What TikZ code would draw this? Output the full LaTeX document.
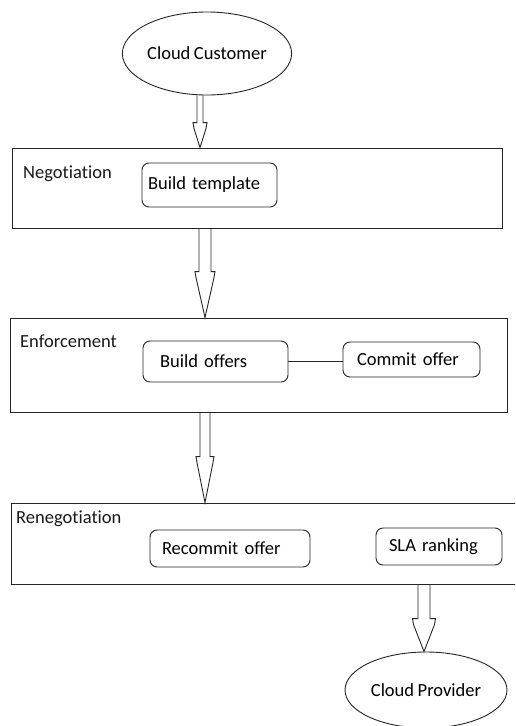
\documentclass[tikz,border=0pt]{standalone}
\usepackage{fontspec}
\setmainfont{Carlito}[RawFeature={-liga}, WordSpace=0.85]
\usetikzlibrary{shapes.geometric,calc}
\begin{document}
\begin{tikzpicture}[x=1pt,y=-1pt,
  font=\fontsize{18.5}{22}\selectfont,
  line/.style={draw=black!85, line width=0.9pt},
  stage/.style={line, rectangle, inner sep=0pt},
  rbox/.style={line, rectangle, rounded corners=7pt, inner ysep=0pt, align=left},
  cloud/.style={line, ellipse, inner sep=0pt},
  lbl/.style={anchor=west, inner sep=0pt, text=black!90},
  hollow/.style n args={3}{line, to path={let \p1=(\tikztostart),\p2=(\tikztotarget) in
    (\x1-#1,\y1) -- (\x1-#1,\y2+#3) -- (\x1-#2,\y2+#3) -- (\x1-#2+1pt,\y2+#3-6pt) -- (\x1,\y2)
    -- (\x1+#2-1pt,\y2+#3-6pt) -- (\x1+#2,\y2+#3) -- (\x1+#1,\y2+#3) -- (\x1+#1,\y1)}}]
\clip (0,0) rectangle (515,726);
\fill[white] (0,0) rectangle (515,726);

% ellipses
\node[cloud, minimum width=152pt, minimum height=83pt] (cc) at (207,53.5) {Cloud Customer};
\node[cloud, minimum width=162pt, minimum height=76pt] (cp) at (426,690) {Cloud Provider};

% stage boxes
\node[stage, minimum width=490pt, minimum height=80pt] (neg) at (257,188) {};
\node[stage, minimum width=497pt, minimum height=94pt] (enf) at (258.5,365) {};
\node[stage, minimum width=509pt, minimum height=81pt] (ren) at (265.5,543.5) {};

\node[lbl] (negl) at (23,174) {Negotiation};
\node[lbl] (enfl) at (20,341) {Enforcement};
\node[lbl] (renl) at (16,519) {Renegotiation};

% inner rounded boxes
\node[rbox, inner xsep=6pt, text width=123pt, minimum height=44pt] (bt) at (209.5,185) {Build template};
\node[rbox, inner xsep=17pt, text width=111pt, minimum height=41pt] (bo) at (215.5,361.5) {Build offers};
\node[rbox, inner xsep=14pt, text width=109pt, minimum height=35pt] (co) at (411.5,359.5) {Commit offer};
\node[rbox, inner xsep=12pt, text width=136pt, minimum height=37pt] (rc) at (230,548.5) {Recommit offer};
\node[rbox, inner xsep=13pt, text width=100pt, minimum height=37pt] (sla) at (439,546.5) {SLA ranking};

\draw[line] (bo.east) -- (bo.east -| co.west);

% hollow arrows
\draw[hollow={3pt}{7pt}{25pt}] ([xshift=-7pt]cc.south) to (neg.north);
\draw[hollow={6pt}{10pt}{46pt}] ([xshift=-52pt]neg.south) to (enf.north);
\draw[hollow={5pt}{9pt}{46pt}] ([xshift=-53.5pt]enf.south) to (ren.north);
\draw[hollow={6pt}{11.5pt}{33pt}] ([xshift=158.5pt]ren.south) to (cp.north);
\end{tikzpicture}
\end{document}
